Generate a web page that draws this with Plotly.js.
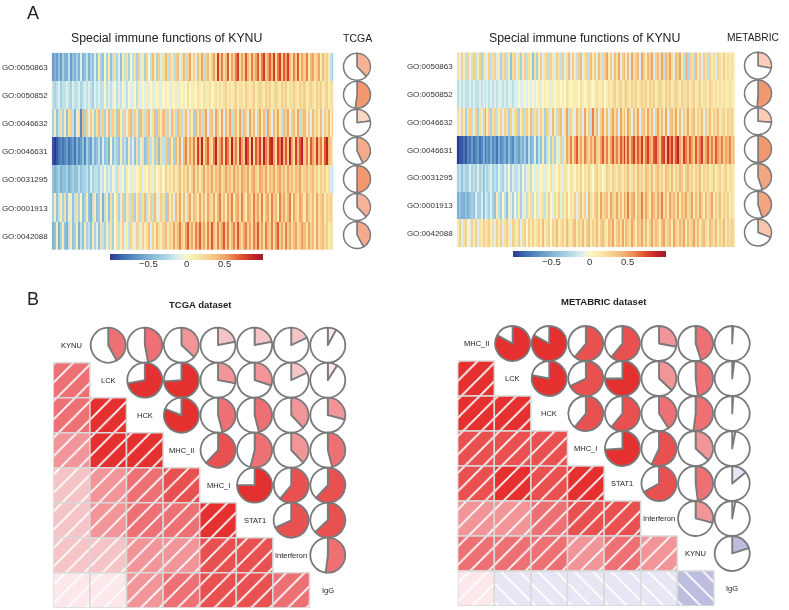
<!DOCTYPE html>
<html>
<head>
<meta charset="utf-8">
<script src="https://cdn.plot.ly/plotly-3.0.1.min.js"></script>
<style>html,body{margin:0;padding:0;background:#fff}</style>
</head>
<body>
<div id="plot" style="width:789px;height:610px;filter:blur(.55px)"></div>
<script>
var goTerms = ["GO:0050863","GO:0050852","GO:0046632","GO:0046631","GO:0031295","GO:0001913","GO:0042088"];

// heatmap rows left to right
var tcga1 = [-.6,-.5,-.6,-.4,-.6,-.3,-.5,-.5,-.2,-.6,-.4,-.5,-.3,-.5,-.1,-.5,-.4,-.2,-.5,-.3,
  -.4,-.1,-.4,.1,-.3,-.4,0,-.3,.1,-.4,-.2,.2,-.3,-.1,-.4,.1,-.2,.2,-.3,0,
  -.2,.2,-.3,.3,-.1,.1,-.3,.3,0,-.2,.4,.1,-.3,.3,-.1,.2,.4,-.2,.3,.1,
  -.2,.3,.4,-.1,.2,.4,-.2,.3,.5,.1,.3,-.1,.4,.2,.5,-.2,.3,.4,.1,.3,
  .5,.2,.8,.3,.6,.2,.4,.7,.1,.5,.3,.6,.8,.2,.5,.3,.7,.4,.2,.6,
  .3,.5,.7,.2,.6,.8,.3,.5,.7,.4,.8,.2,.6,.8,.3,.7,.5,.8,.4,.2,
  .6,.3,.7,.2,.5,.3,.6,.1,.4,.5,.2,.3,.5,.1,.4,.2,.3,.1,-.2,-.3];
var tcga2 = [-.2,-.3,-.2,-.1,-.3,-.2,-.2,-.1,-.2,-.3,-.1,-.2,-.2,-.1,-.3,-.2,-.1,-.2,-.1,-.2,
  -.3,-.1,-.2,-.1,-.2,-.2,0,-.2,-.1,-.2,-.1,0,-.2,-.1,-.2,0,-.1,-.2,0,-.1,
  -.1,0,-.2,.1,-.1,0,-.1,.1,-.1,0,.1,-.1,0,.1,-.1,0,.1,0,-.1,.1,
  0,.1,-.1,.1,0,.1,0,.2,0,.1,.1,0,.2,.1,0,.2,.1,.1,.2,0,
  .1,.2,.1,.2,.1,.2,.3,.1,.2,.1,.2,.3,.1,.2,.2,.1,.3,.2,.1,.2,
  .3,.1,.2,.3,.2,.1,.3,.2,.3,.1,.2,.3,.2,.1,.3,.2,.3,.1,.2,.2,
  .3,.2,.1,.3,.2,.3,.1,.2,.3,.2,.1,.3,.2,.3,.1,.2,.3,.1,.2,.2];
var tcga3 = [-.3,.1,-.4,-.2,.2,-.3,.1,-.4,.2,.3,-.2,-.5,-.1,.2,-.7,.4,-.3,.3,-.1,.3,
  .1,-.3,.2,.4,-.2,.3,-.3,.1,.4,-.2,.3,.2,-.3,.4,.1,-.2,.3,-.1,.3,.4,
  -.2,.3,.1,-.3,.4,.2,-.2,.3,.4,-.1,.2,.4,-.3,.3,.1,.4,-.2,.3,-.1,.4,
  .2,-.2,.4,.3,-.2,.2,.4,-.1,.3,.1,-.3,.4,.2,.4,-.2,.3,.5,-.1,.3,.4,
  -.1,.5,.3,.1,.5,-.1,.4,.2,.5,-.2,.3,.4,.1,.5,-.2,.4,.3,-.1,.5,.2,
  .4,-.1,.3,.5,.1,.4,-.2,.5,.3,-.1,.4,.2,.5,.1,-.2,.4,.3,.5,-.1,.3,
  .4,.1,.5,-.2,.3,.4,.1,.3,-.1,.4,.2,.3,.1,.4,-.1,.3,.2,.4,.1,.3];
var tcga4 = [-.9,-1,-.9,-.8,-.7,-.8,-.7,-.6,-.8,-.7,-.6,-.8,-.5,-.7,-.6,-.4,-.7,-.3,-.5,-.6,
  -.2,-.5,-.4,-.2,-.5,-.1,-.4,-.3,-.5,0,-.4,-.2,-.3,-.4,.1,-.3,-.2,-.4,.1,-.3,
  -.1,-.4,.2,-.3,-.1,.2,-.4,-.3,.3,-.2,.1,-.3,.3,-.4,.2,-.2,.3,-.3,.4,.1,
  -.3,.4,.2,.5,-.1,.4,.6,.2,.5,.3,.6,.2,.8,.4,.9,.2,.5,.7,.3,.2,
  .6,.9,.3,.5,.7,.2,.8,.6,.3,.9,.4,.6,.2,.8,.5,.3,.9,.7,.3,.9,
  .2,.7,.5,.8,.3,.9,.6,.4,.8,.9,.5,.2,.8,.6,.9,.4,.7,.3,.9,.5,
  .2,.8,.4,.7,.9,.3,.6,.2,.7,.5,.3,.8,.4,.6,.2,.7,.9,.4,.3,.1];
var tcga5 = [-.4,-.5,-.4,-.3,-.5,-.4,-.4,-.3,-.5,-.4,-.3,-.4,-.4,-.2,-.4,-.3,-.3,-.2,-.4,-.1,
  -.3,-.2,-.2,-.3,-.1,-.2,0,-.2,-.1,-.2,0,-.1,-.2,.1,-.1,0,-.2,.1,0,-.1,
  .1,-.1,0,.1,.2,-.1,.1,0,.2,.1,-.1,.2,0,.1,.2,0,.3,.1,.2,.1,
  .3,.1,.2,.4,.1,.3,.2,.4,.1,.3,.5,.2,.4,.1,.3,.5,.2,.4,.3,.5,
  .2,.4,.3,.5,.2,.3,.5,.3,.4,.2,.5,.3,.4,.2,.5,.4,.3,.5,.2,.4,
  .5,.3,.2,.5,.4,.3,.5,.2,.4,.3,.5,.2,.4,.5,.3,.4,.2,.5,.3,.4,
  .2,.4,.3,.5,.2,.3,.4,.2,.3,.4,.2,.3,.1,.3,.2,.3,.1,.2,-.1,-.2];
var tcga6 = [-.3,.1,-.4,-.2,.1,-.3,.2,-.4,-.1,.1,-.4,-.2,.2,-.3,0,-.4,-.3,.1,-.4,-.5,
  -.2,.1,-.4,-.3,.1,-.5,-.2,.1,-.4,.2,-.3,0,.2,-.3,-.1,.3,-.3,.1,.2,-.2,
  .3,-.3,.1,.3,-.2,.2,.4,-.2,.1,.3,-.2,.4,.1,-.1,.3,.2,-.3,.4,.1,.3,
  -.1,.4,.2,.5,.1,.4,-.1,.3,.5,.1,.4,.3,.1,.5,.2,.4,.1,.5,.3,.2,
  .5,.1,.4,.6,.2,.4,.1,.5,.3,.6,.1,.4,.5,.2,.6,.3,.1,.5,.4,.2,
  .6,.3,.5,.2,.6,.1,.4,.5,.2,.6,.3,.4,.1,.6,.3,.5,.2,.4,.6,.1,
  .5,.3,.2,.5,.4,.1,.5,.3,.2,.4,.1,.5,.2,.3,.4,.1,.3,.2,.3,.1];
var tcga7 = [-.5,-.4,.1,-.5,-.3,.1,-.4,-.5,-.2,.1,-.4,-.3,.1,-.5,-.2,-.4,.1,-.3,-.2,-.4,
  .1,-.3,-.1,-.4,.2,-.2,-.3,.1,-.2,.2,-.3,0,.2,-.2,.1,.3,-.1,.1,-.2,.3,
  .1,-.1,.3,.2,-.1,.3,.1,.2,.4,-.1,.3,.1,.4,.2,.1,.3,.4,.1,.3,.2,
  .5,.2,.4,.6,.3,.2,.5,.7,.3,.5,.2,.6,.4,.7,.3,.5,.2,.6,.3,.7,
  .4,.2,.6,.3,.5,.7,.3,.6,.2,.4,.6,.3,.7,.4,.2,.5,.6,.3,.5,.2,
  .6,.4,.7,.3,.5,.2,.6,.4,.3,.6,.2,.5,.7,.3,.5,.2,.6,.3,.5,.2,
  .4,.5,.2,.3,.5,.4,.2,.5,.3,.4,.1,.5,.2,.3,.4,.2,.3,.1,.2,.1];

var meta1 = [.2,-.1,.3,.1,-.2,.3,-.1,.2,.3,-.2,.1,.3,-.3,.2,.1,-.1,.3,-.2,.2,.3,
  -.1,.1,-.3,.2,.3,-.2,.1,-.4,.2,.3,-.1,.2,-.3,.1,.3,-.2,.2,.1,-.4,.2,
  -.3,.1,.3,-.1,.2,.3,-.2,.3,.1,-.1,.3,.2,-.2,.3,-.1,.2,.4,-.1,.3,.1,
  -.2,.3,.4,-.1,.2,.3,-.2,.4,.1,.3,-.1,.4,.2,-.2,.3,.5,.1,.3,-.1,.4,
  .2,.5,-.1,.3,.4,.1,.4,-.1,.5,.2,.3,.4,-.1,.5,.3,.1,.4,.3,.5,-.1,
  .3,.4,.2,.5,-.2,.4,.3,.5,.2,-.1,.4,.3,.5,.1,-.2,.4,-.3,.3,.2,-.2,
  .4,.1,.3,-.1,.3,.2,-.2,.3,.1,.2,-.1,.3,.2,.1,.3,.1,.2,.1,.2,.1];
var meta2 = [-.2,-.1,-.2,-.1,-.2,-.2,-.1,-.2,-.1,-.2,-.2,-.1,-.2,-.1,-.2,-.1,-.2,-.1,-.2,-.1,
  -.2,-.1,-.1,-.2,-.1,-.2,-.1,-.1,-.2,-.1,-.1,0,-.1,-.1,0,-.1,0,-.1,0,-.1,
  0,.1,-.1,0,.1,0,.1,-.1,.1,0,.1,.1,0,.1,0,.2,.1,0,.1,.1,
  .1,0,.2,.1,0,.1,.2,.1,0,.1,.2,.1,.1,.2,0,.1,.2,.1,.2,.3,
  .1,.2,.3,.1,.2,.3,.2,.1,.3,.2,.3,.1,.2,.3,.2,.3,.1,.3,.2,.3,
  .1,.2,.3,.2,.1,.3,.2,.3,.1,.2,.3,.2,.1,.3,.2,.2,.3,.1,.2,.3,
  .1,.2,.3,.1,.2,.2,.1,.3,.2,.1,.2,.1,.2,.1,.2,.1,.1,.2,.1,.1];
var meta3 = [.2,-.1,.3,.1,-.3,.2,.3,-.2,.1,.3,-.3,.2,-.1,.3,-.4,.1,.3,-.3,.2,.3,
  -.2,.1,.3,-.1,.3,.2,-.3,.3,-.1,.2,.3,-.3,.1,.3,-.2,.3,.1,.4,-.2,.2,
  .3,-.1,.3,.1,-.3,.3,.2,-.1,.4,.1,-.2,.3,.4,-.1,.2,.5,-.2,.3,.1,-.1,
  .4,.2,.3,-.1,.5,.1,.3,-.2,.6,.2,.4,-.1,.3,.5,.1,.4,-.1,.3,.5,.2,
  .4,-.1,.5,.2,.4,.1,.5,.3,-.1,.4,.2,.5,-.1,.3,.4,.1,.5,.2,.4,-.1,
  .3,.5,.2,.4,.1,.5,-.1,.3,.4,.2,.5,.1,.4,-.1,.3,.2,.5,.1,.3,.4,
  .1,.3,.2,.4,-.1,.3,.2,.4,.1,.3,.2,.4,.1,.2,.3,.1,.3,.2,.3,.1];
var meta4 = [-1,-.9,-.9,-.8,-.9,-.7,-.8,-.6,-.8,-.7,-.6,-.8,-.7,-.5,-.8,-.6,-.7,-.5,-.7,-.6,
  -.8,-.5,-.7,-.6,-.5,-.7,-.4,-.6,-.7,-.4,-.5,-.6,-.4,-.5,-.3,-.6,-.2,-.5,-.4,-.1,
  -.5,-.2,-.4,.1,-.4,-.2,.1,-.3,.2,-.3,.1,-.1,.3,-.2,.1,.5,.3,.6,.2,.5,
  .7,.3,.5,.2,.6,.4,.2,.5,.3,.6,.3,.2,.5,.7,.3,.6,.2,.5,.7,.4,
  .6,.3,.7,.5,.8,.4,.7,.3,.6,.8,.4,.7,.5,.8,.3,.6,.8,.5,.4,.7,
  .8,.5,.3,.7,.8,.4,.9,.6,.8,.4,.7,.9,.5,.3,.8,.6,.4,.7,.5,.3,
  .7,.4,.6,.8,.3,.5,.7,.4,.6,.3,.7,.5,.4,.6,.3,.5,.4,.6,.3,.4];
var meta5 = [-.3,-.2,-.4,-.2,-.3,-.3,-.1,-.3,-.2,-.3,-.1,-.3,-.2,-.4,-.1,-.3,-.2,-.1,-.3,-.2,
  -.3,-.1,-.2,-.3,-.1,-.2,0,-.3,-.1,-.2,-.2,-.1,-.3,0,-.2,-.1,.1,-.2,0,-.1,
  .1,-.1,0,.1,-.1,.1,0,.2,-.1,.1,0,.2,.1,-.1,.2,.1,0,.2,.1,0,
  .2,.1,.3,0,.2,.1,.3,.1,0,.2,.3,.1,.2,0,.1,.3,.2,.1,.3,.2,
  .1,.3,.2,.1,.3,.2,.4,.1,.2,.3,.1,.4,.2,.3,.1,.4,.3,.2,.4,.1,
  .3,.4,.2,.3,.1,.4,.3,.2,.4,.1,.3,.2,.4,.3,.1,.3,.4,.2,.3,.1,
  .3,.2,.4,.1,.3,.2,.3,.1,.2,.3,.1,.2,.3,.1,.2,.3,.1,.2,.2,.1];
var meta6 = [-.5,-.4,-.5,-.5,-.4,-.5,-.4,-.3,-.4,-.1,-.3,-.3,-.1,-.4,0,-.2,-.3,-.1,-.3,-.4,
  .1,-.2,-.3,0,-.2,-.4,.1,-.1,-.3,0,-.2,.1,-.3,-.1,.1,-.2,.1,.2,-.2,0,
  .2,-.1,.1,.2,-.2,.1,.3,0,-.1,.2,.1,.3,-.1,.2,.1,.3,0,.2,.1,.3,
  -.1,.2,.4,.1,.3,-.1,.4,.2,.1,.3,.4,.1,.5,.2,.3,.4,.1,.5,.3,.2,
  .5,.2,.4,.1,.5,.3,.6,.2,.4,.5,.1,.4,.3,.6,.2,.5,.3,.1,.5,.4,
  .2,.5,.3,.6,.2,.4,.1,.5,.3,.4,.2,.5,.1,.4,.3,.5,.2,.3,.5,.1,
  .4,.2,.5,.3,.1,.4,.2,.3,.5,.1,.3,.2,.4,.1,.3,.2,.3,.1,.2,.1];
var meta7 = [.1,.3,-.1,.2,.3,0,-.1,.3,.1,.3,-.1,.2,.1,.3,-.1,.2,.3,.1,.2,-.1,
  .3,.1,.3,-.1,.2,.3,.1,-.1,.3,.2,.1,.3,-.1,.2,.3,0,.3,.1,.3,.1,
  .2,.3,.1,.4,.1,.2,.3,0,.3,.2,.4,.1,.2,.3,.1,.4,.2,.1,.3,.4,
  .1,.3,.2,.4,.1,.3,.4,.1,.3,.2,.4,.1,.3,.4,.2,.1,.4,.3,.5,.1,
  .3,.4,.2,.5,.1,.4,.3,.2,.5,.3,.1,.4,.3,.5,.2,.4,.1,.3,.5,.2,
  .4,.3,.1,.4,.5,.2,.3,.4,.1,.5,.3,.2,.4,.3,.5,.1,.4,.2,.3,.5,
  .2,.4,.1,.3,.4,.2,.1,.4,.3,.2,.4,.1,.3,.2,.4,.1,.3,.2,.3,.2];

// fractions of the small pies next to the heatmaps, same order as goTerms
var tcgaSide = [.38,.52,.23,.43,.5,.38,.42];
var metaSide = [.28,.51,.26,.5,.45,.45,.31];

// colorbar ticks
var barTicks = [-.5, 0, .5];
var barTickText = ["\u22120.5", "0", "0.5"];

// correlation pies, upper triangle by row
var tcgaLabels = ["KYNU","LCK","HCK","MHC_II","MHC_I","STAT1","Interferon","IgG"];
var tcgaCor = [
  [.42,.47,.37,.22,.22,.18,.08],
  [.72,.74,.28,.3,.18,.09],
  [.81,.46,.46,.38,.29],
  [.62,.54,.38,.46],
  [.75,.61,.62],
  [.68,.63],
  [.52]
];
var metaLabels = ["MHC_II","LCK","HCK","MHC_I","STAT1","Interferon","KYNU","IgG"];
var metaCor = [
  [.83,.83,.61,.61,.28,.45,.01],
  [.78,.68,.75,.37,.48,-.02],
  [.61,.61,.41,.52,-.01],
  [.74,.57,.37,-.03],
  [.67,.48,-.14],
  [.29,-.03],
  [-.2]
];
var posColors = ["#fce8ea","#f5c4c7","#f29599","#ed7075","#e95050","#e53030"];
var posLimits = [.1,.25,.4,.55,.7];
var negColors = ["#e6e6f4","#bdbde0"];

var W = 789, H = 610;
function xd(a, b) { return [a / W, b / W]; }
function yd(t, b) { return [1 - b / H, 1 - t / H]; }

function corColor(r) {
  if (r < 0) return r > -.15 ? negColors[0] : negColors[1];
  for (var i = 0; i < posLimits.length; i++) if (r < posLimits[i]) return posColors[i];
  return posColors[5];
}
function sideColor(f) {
  if (f < .25) return "#fbd6c4";
  if (f < .3) return "#fbcdb8";
  if (f < .35) return "#f9c4ac";
  if (f < .4) return "#f5b297";
  if (f < .44) return "#f4ab8c";
  if (f < .48) return "#f3a582";
  return "#f1986f";
}
var rdylbu = [[0,"#2b3a94"],[.1,"#4575b4"],[.25,"#7eb3d5"],[.38,"#b5dae6"],[.45,"#dcefee"],[.5,"#fbf7c6"],
  [.58,"#f8e6a6"],[.68,"#f4c585"],[.76,"#f0a060"],[.86,"#e0522e"],[.94,"#c4252b"],[1,"#a01a2e"]];

function heat(rows, xa, ya, barLeft, barY) {
  return {
    type: "heatmap", xaxis: xa, yaxis: ya, y: goTerms, z: rows,
    zmin: -1, zmax: 1, colorscale: rdylbu, hoverinfo: "skip",
    colorbar: {
      orientation: "h", x: barLeft / W, xanchor: "left", y: 1 - barY / H, yanchor: "top",
      lenmode: "pixels", len: 153, thicknessmode: "pixels", thickness: 5.5,
      xpad: 0, ypad: 0, outlinewidth: 0, ticks: "", showticklabels: false
    }
  };
}
function pie(cx, cy, d, f, color, lw) {
  return {
    type: "pie", values: [Math.abs(f), 1 - Math.abs(f)], sort: false, rotation: 0,
    direction: f < 0 ? "counterclockwise" : "clockwise",
    marker: {colors: [color, "#ffffff"], line: {color: "#7a7a7a", width: lw}},
    textinfo: "none", hoverinfo: "skip", showlegend: false,
    domain: {x: xd(cx - d / 2, cx + d / 2), y: yd(cy - d / 2, cy + d / 2)}
  };
}

var traces = [
  heat([tcga1, tcga2, tcga3, tcga4, tcga5, tcga6, tcga7], "x", "y", 110, 254),
  heat([meta1, meta2, meta3, meta4, meta5, meta6, meta7], "x2", "y2", 513, 251)
];

tcgaSide.forEach(function (f, i) { traces.push(pie(357, 66.7 + i * 28.05, 27, f, sideColor(f), 1.5)); });
metaSide.forEach(function (f, i) { traces.push(pie(758, 65.7 + i * 27.8, 27, f, sideColor(f), 1.5)); });

// one corrgram: bars below the diagonal, pies above it
function corrgram(cor, xa, ya, gx, gy, cw, ch) {
  var xs = [], bases = [], ones = [], cols = [], shapes = [];
  cor.forEach(function (row, i) {
    row.forEach(function (r, k) {
      var j = i + 1 + k;
      xs.push(i + .5); bases.push(j); ones.push(1);
      cols.push(corColor(r));
      shapes.push(r < 0 ? "\\" : "/");
      traces.push(pie(gx + (j + .5) * cw, gy + (i + .5) * ch, 35, r, corColor(r), 1.8));
    });
  });
  // in replace mode the marker colour draws the hatch lines, bgcolor fills the cell
  traces.push({
    type: "bar", xaxis: xa, yaxis: ya, x: xs, y: ones, base: bases, width: 1,
    hoverinfo: "skip", showlegend: false,
    marker: {
      color: "#ffffff", line: {color: "#d9d9d9", width: 1.5},
      pattern: {shape: shapes, fillmode: "replace", bgcolor: cols, fgopacity: 1, size: 13, solidity: .14}
    }
  });
}
var tx = 53.3, ty = 327.7, mx = 457.7, my = 326, cw = 36.6, ch = 35;
corrgram(tcgaCor, "x3", "y3", tx, ty, cw, ch);
corrgram(metaCor, "x4", "y4", mx, my, cw, ch);

function note(text, x, y, size, color) {
  return {text: text, x: x / W, y: 1 - y / H, xref: "paper", yref: "paper", showarrow: false,
    xanchor: "center", yanchor: "middle", font: {family: "Liberation Sans", size: size, color: color || "#222"}};
}
var annotations = [
  note("A", 33, 13, 18),
  note("B", 33, 299, 18),
  note("Special immune functions of KYNU", 166.7, 37.7, 12.3),
  note("Special immune functions of KYNU", 584.7, 37.7, 12.3),
  note("TCGA", 357, 37.7, 10.5),
  note("METABRIC", 752.7, 37.7, 10.2),
  note("<b>TCGA dataset</b>", 200, 304, 9.5),
  note("<b>METABRIC dataset</b>", 604, 301.7, 9.5)
];
tcgaLabels.forEach(function (t, i) {
  annotations.push(note(t, tx + (i + .5) * cw, ty + (i + .5) * ch, 7.5));
});
metaLabels.forEach(function (t, i) {
  annotations.push(note(t, mx + (i + .5) * cw, my + (i + .5) * ch, 7.5));
});
barTicks.forEach(function (v, i) {
  annotations.push(note(barTickText[i], 186.5 + v * 76.5, 264, 9.5, "#333"));
  annotations.push(note(barTickText[i], 589.5 + v * 76.5, 261.7, 9.5, "#333"));
});

var tickFont = {family: "Liberation Sans", size: 8, color: "#333"};
var layout = {
  width: W, height: H, autosize: false, showlegend: false,
  margin: {l: 0, r: 0, t: 0, b: 0},
  paper_bgcolor: "#fff", plot_bgcolor: "rgba(0,0,0,0)", barmode: "overlay",
  xaxis: {domain: xd(51.7, 333.3), visible: false},
  yaxis: {domain: yd(52.7, 250), autorange: "reversed", type: "category", ticks: "", ticklabelstandoff: 3, showline: false, tickfont: tickFont},
  xaxis2: {domain: xd(456.7, 735), visible: false, anchor: "y2"},
  yaxis2: {domain: yd(52.3, 247.3), autorange: "reversed", type: "category", ticks: "", ticklabelstandoff: 3, showline: false, tickfont: tickFont, anchor: "x2"},
  xaxis3: {domain: xd(tx, tx + 8 * cw), range: [0, 8], visible: false, anchor: "y3"},
  yaxis3: {domain: yd(ty, ty + 8 * ch), range: [8, 0], visible: false, anchor: "x3"},
  xaxis4: {domain: xd(mx, mx + 8 * cw), range: [0, 8], visible: false, anchor: "y4"},
  yaxis4: {domain: yd(my, my + 8 * ch), range: [8, 0], visible: false, anchor: "x4"},
  annotations: annotations
};
Plotly.newPlot("plot", traces, layout, {displayModeBar: false, staticPlot: true});
</script>
</body>
</html>
